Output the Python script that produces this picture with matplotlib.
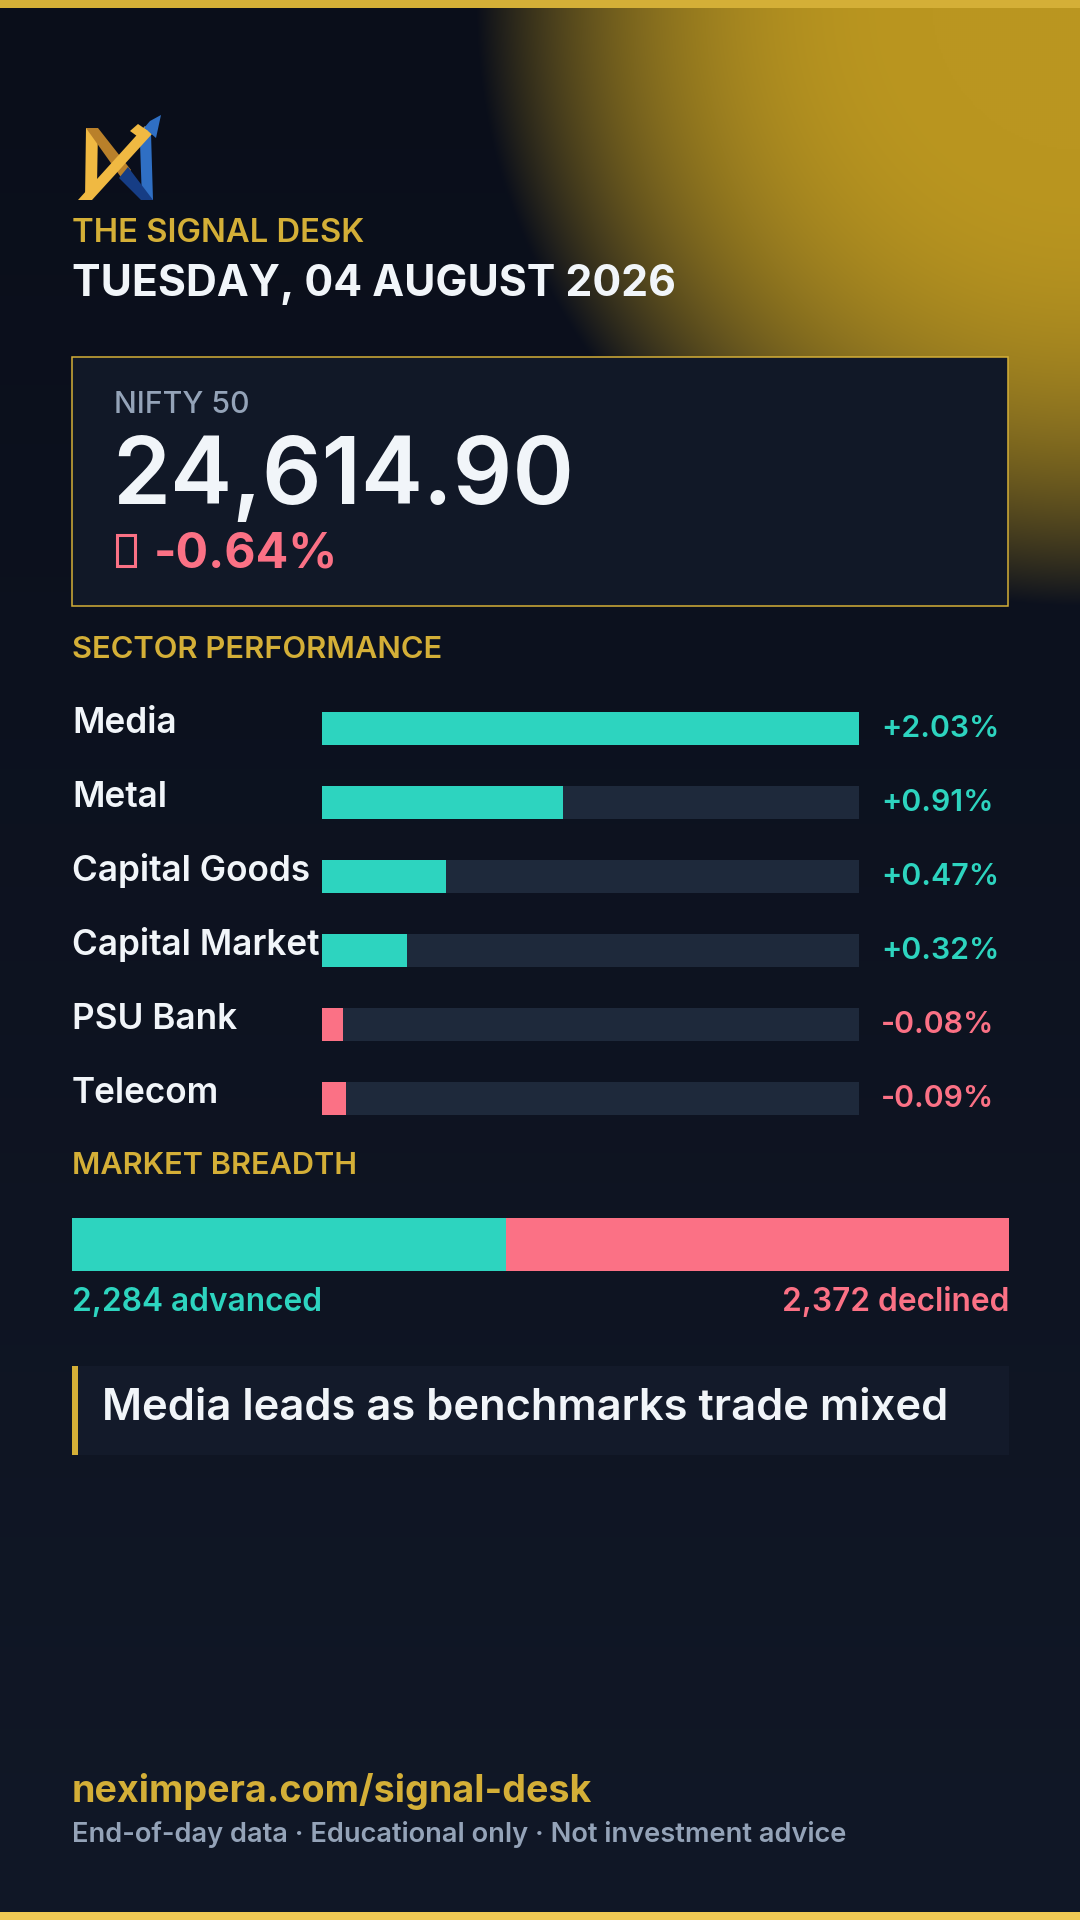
import numpy as np
import matplotlib
matplotlib.use("Agg")
import matplotlib.pyplot as plt
from matplotlib.patches import Rectangle, Polygon

# ---------------- data ----------------
brand = "THE SIGNAL DESK"
date_label = "TUESDAY, 04 AUGUST 2026"
index_name = "NIFTY 50"
index_value = 24614.90
index_change = -0.64

sectors = ["Media", "Metal", "Capital Goods", "Capital Market", "PSU Bank", "Telecom"]
sector_changes = [2.03, 0.91, 0.47, 0.32, -0.08, -0.09]

advanced = 2284
declined = 2372
unchanged = 277  # not printed in the card; estimated from the breadth bar split

headline = "Media leads as benchmarks trade mixed"
footer_url = "neximpera.com/signal-desk"
footer_note = "End-of-day data \u00b7 Educational only \u00b7 Not investment advice"

# ---------------- style ----------------
W, H, DPI = 1080, 1920, 100
FONT = ["Inter", "DejaVu Sans"]
GOLD = "#d4af37"
WHITE = "#f1f5f9"
GREY = "#94a3b8"
TEAL = "#2dd4bf"
PINK = "#fb7185"
TRACK = "#1e293b"
CARD = "#111827"

fig = plt.figure(figsize=(W / DPI, H / DPI), dpi=DPI)
renderer = fig.canvas.get_renderer()
bg = fig.add_axes([0, 0, 1, 1])
bg.set_xlim(0, W)
bg.set_ylim(H, 0)
bg.axis("off")

# background: vertical gradient blended with a gold glow from the top-right corner
top_c = np.array([10, 14, 26]) / 255
bot_c = np.array([17, 24, 39]) / 255
gold_c = np.array([186, 150, 32]) / 255
yy, xx = np.mgrid[0:H:2, 0:W:2].astype(float)
tt = (yy / H)[..., None]
base = top_c * (1 - tt) + bot_c * tt
dist = np.hypot(xx - W, yy)
f = (1 - np.clip((dist - 150) / 455.0, 0, 1) ** 2.48)[..., None]
img = base * (1 - f) + gold_c * f
bg.imshow(img, extent=(0, W, H, 0), aspect="auto", origin="upper",
          interpolation="bilinear", zorder=0)

# top / bottom accent bars
bg.add_patch(Rectangle((0, 0), W, 8, color=GOLD, lw=0, zorder=10))
bg.add_patch(Rectangle((0, 1912), W, 8, color="#f0c954", lw=0, zorder=10))


def T(x, y, s, px, color, weight="bold", ha="left", va="baseline", z=5):
    return bg.text(x, y, s, fontsize=px * 72 / DPI, color=color, fontweight=weight,
                   ha=ha, va=va, family=FONT, zorder=z)


def fit(texts, targets):
    """scale a group of texts (one common size) so their widths match the card"""
    have = sum(t.get_window_extent(renderer).width for t in texts)
    k = sum(targets) / have
    for t in texts:
        t.set_fontsize(t.get_fontsize() * k)


# logo (simple vector mark)
gold_l, gold_d = "#f0b942", "#b9802a"
blue_l, blue_d = "#2f6fc4", "#163d85"
bg.add_patch(Polygon([(86, 128), (98, 128), (97, 186), (85, 199)], color=gold_l, lw=0, zorder=4))
bg.add_patch(Polygon([(86, 128), (98, 128), (131, 170), (123, 180)], color=gold_d, lw=0, zorder=4))
bg.add_patch(Polygon([(140, 143), (151, 133), (153, 200), (142, 200)], color=blue_l, lw=0, zorder=4))
bg.add_patch(Polygon([(119, 178), (128, 167), (153, 200), (141, 200)], color=blue_d, lw=0, zorder=4))
bg.add_patch(Polygon([(78, 200), (92, 200), (152, 134), (145, 126)], color=gold_l, lw=0, zorder=5))
bg.add_patch(Polygon([(138, 124), (144, 128), (150, 121), (161, 115), (156, 138), (148, 131)],
                     color=blue_l, lw=0, zorder=5))
bg.add_patch(Polygon([(130, 131), (138, 124), (148, 131), (141, 139)], color=gold_l, lw=0, zorder=5))

# header text
fit([T(72, 242, brand, 31.6, GOLD, "semibold")], [293])
fit([T(72, 296, date_label, 41.3, WHITE, "bold")], [603])

# index card
bg.add_patch(Rectangle((72, 357), 936, 249, facecolor=CARD, edgecolor=GOLD, lw=1.1, zorder=3))
fit([T(114, 413, index_name, 28.9, GREY, "medium")], [136])
fit([T(112, 504, f"{index_value:,.2f}", 95, WHITE, "semibold")], [462])
chg_color = PINK if index_change < 0 else TEAL
bg.add_patch(Rectangle((116.5, 534.5), 18, 31, fill=False, edgecolor=chg_color, lw=2.2, zorder=5))
fit([T(154, 568, f"{index_change:.2f}%", 48, chg_color, "bold")], [184])

# sector performance
fit([T(72, 658, "SECTOR PERFORMANCE", 29, GOLD, "semibold")], [371])
n = len(sectors)
row_top0, pitch, bar_h = 712, 74, 33
sx0, sx1 = 322, 859
ax = fig.add_axes([sx0 / W, 1 - (row_top0 + pitch * (n - 1) + bar_h) / H,
                   (sx1 - sx0) / W, (pitch * (n - 1) + bar_h) / H])
hh = bar_h / pitch
idx = np.arange(n)
vals = np.array(sector_changes)
vmax = np.max(np.abs(vals))
cols = [TEAL if v >= 0 else PINK for v in vals]
ax.barh(idx, [vmax] * n, height=hh, color=TRACK, lw=0)
ax.barh(idx, np.abs(vals), height=hh, color=cols, lw=0)
ax.set_xlim(0, vmax)
ax.set_ylim(n - 1 + hh / 2, -hh / 2)
ax.axis("off")
ax.patch.set_alpha(0)
labels, values = [], []
for i, (name, v, c) in enumerate(zip(sectors, vals, cols)):
    top = row_top0 + pitch * i
    labels.append(T(72, top + 21, name, 31.6, WHITE, "semibold"))
    values.append(T(881, top + 25, f"{v:+.2f}%", 27.5, c, "semibold"))
fit(labels, [104, 97, 241, 252, 157, 147])
fit(values, [115, 108, 115, 115, 120, 120])

# market breadth
fit([T(72, 1174, "MARKET BREADTH", 29, GOLD, "semibold")], [285])
total = advanced + declined + unchanged
bx = fig.add_axes([72 / W, 1 - 1271 / H, 937 / W, 53 / H])
bx.barh(0, total, height=1, color=PINK, lw=0)
bx.barh(0, advanced, height=1, color=TEAL, lw=0)
bx.set_xlim(0, total)
bx.set_ylim(-0.5, 0.5)
bx.axis("off")
bx.patch.set_alpha(0)
fit([T(72, 1311, f"{advanced:,} advanced", 30, TEAL, "semibold"),
     T(1009, 1311, f"{declined:,} declined", 30, PINK, "semibold", ha="right")], [250, 227])

# headline
bg.add_patch(Rectangle((72, 1366), 937, 89, color="#131a2a", lw=0, zorder=2))
bg.add_patch(Rectangle((72, 1366), 6, 89, color=GOLD, lw=0, zorder=3))
fit([T(102, 1420, headline, 41.3, WHITE, "semibold")], [845])

# footer
fit([T(72, 1802, footer_url, 30.4, GOLD, "bold")], [519])
fit([T(72, 1842, footer_note, 23.4, GREY, "semibold")], [777])

fig.savefig("out.png", dpi=DPI)
